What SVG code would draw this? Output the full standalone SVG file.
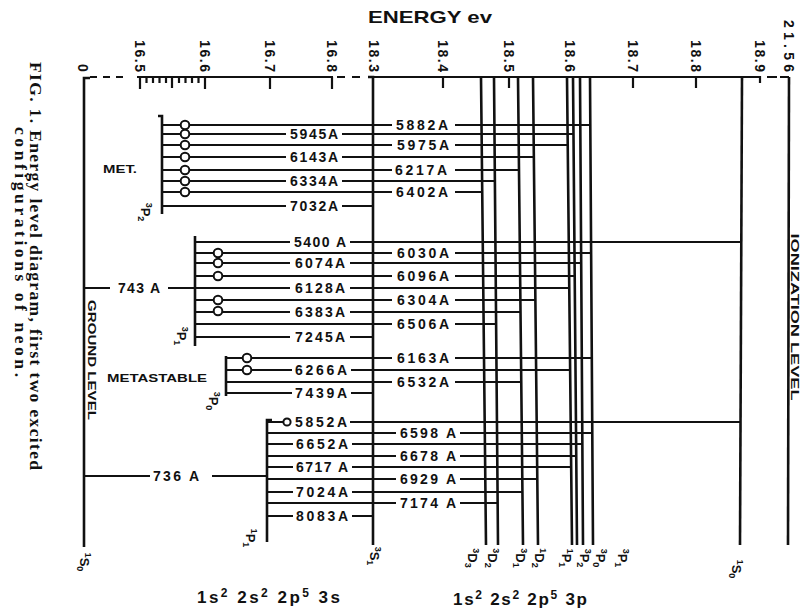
<svg xmlns="http://www.w3.org/2000/svg" width="810" height="611" viewBox="0 0 810 611">
<style>
.ln{stroke:#111;stroke-width:2;fill:none}
.vl{stroke:#111;stroke-width:2.6;fill:none}
.ax{stroke:#111;stroke-width:2.2;fill:none}
.c{fill:#fff;stroke:#111;stroke-width:2}
.lab{font-family:"Liberation Sans",Arial,sans-serif;font-weight:bold;font-size:14px;text-anchor:middle;fill:#111}
.tk{font-family:"Liberation Sans",Arial,sans-serif;font-weight:bold;font-size:14px;text-anchor:middle;fill:#111}
.tm{font-family:"Liberation Sans",Arial,sans-serif;font-weight:bold;font-size:13px;text-anchor:middle;fill:#111}
.sm{font-size:9px}
.cap{font-family:"Liberation Serif","Times New Roman",serif;font-weight:bold;font-size:17.5px;text-anchor:middle;fill:#111}
.big{font-family:"Liberation Sans",Arial,sans-serif;font-weight:bold;font-size:17px;fill:#111}
.nt{font-family:"Liberation Sans",Arial,sans-serif;font-weight:bold;font-size:11px;fill:#111}
</style>
<rect width="810" height="611" fill="#fff"/>

<g id="axis">
<text class="big" x="368" y="23" textLength="124" lengthAdjust="spacingAndGlyphs">ENERGY ev</text>
<path class="ax" d="M90 77H97M103 77H110M116 77H123M137 77H333M337 77H345M352 77H360M368 77H760V83M767 77H777M780 77H789"/>
<path class="ax" d="M140 77V89M205 77V89M270 77V89M332 77V89M443 77V88M509 77V88M633 77V88M696 77V88M172 77V88"/>
<path class="ax" stroke-width="1.6" d="M146.5 77V83M153 77V83M159.5 77V83M166 77V83M179 77V83M185.5 77V83M192 77V83M198.5 77V83"/>
<g class="tk">
<text transform="translate(135,56) rotate(90)" textLength="32">16.5</text>
<text transform="translate(200,56) rotate(90)" textLength="32">16.6</text>
<text transform="translate(265,56) rotate(90)" textLength="32">16.7</text>
<text transform="translate(327,56) rotate(90)" textLength="32">16.8</text>
<text transform="translate(369,56) rotate(90)" textLength="32">18.3</text>
<text transform="translate(438,56) rotate(90)" textLength="32">18.4</text>
<text transform="translate(504,56) rotate(90)" textLength="32">18.5</text>
<text transform="translate(565,56) rotate(90)" textLength="32">18.6</text>
<text transform="translate(628,56) rotate(90)" textLength="32">18.7</text>
<text transform="translate(691,56) rotate(90)" textLength="32">18.8</text>
<text transform="translate(755,56) rotate(90)" textLength="32">18.9</text>
<text transform="translate(784,46) rotate(90)" textLength="52">21.56</text>
<text transform="translate(78,68) rotate(90)">0</text>
</g>
</g>

<g id="ground-level">
<path class="vl" stroke-width="3" d="M90 78H84V547"/>
<text class="nt" transform="translate(88,360) rotate(90)" text-anchor="middle" textLength="120" lengthAdjust="spacingAndGlyphs">GROUND LEVEL</text>
<text class="tm" transform="translate(80,562) rotate(90)"><tspan class="sm" dy="-5">1</tspan><tspan dy="5">S</tspan><tspan class="sm" dy="3">0</tspan></text>
</g>

<g id="level-18-3">
<path class="vl" d="M368 77H373V545"/>
<text class="tm" transform="translate(370,556) rotate(90)"><tspan class="sm" dy="-5">3</tspan><tspan dy="5">S</tspan><tspan class="sm" dy="3">1</tspan></text>
</g>

<g id="levels-3p">
<path class="vl" d="M481 77L486 545M494 77L498 545M518 77L523 545M533 77L538 545M567 77L572 545M573 77L577 545M580 77L583 545M590 77L593 545"/>
<g class="tm">
<text transform="translate(468,558) rotate(90)"><tspan class="sm" dy="-5">3</tspan><tspan dy="5">D</tspan><tspan class="sm" dy="3">3</tspan></text>
<text transform="translate(488,558) rotate(90)"><tspan class="sm" dy="-5">3</tspan><tspan dy="5">D</tspan><tspan class="sm" dy="3">2</tspan></text>
<text transform="translate(516,558) rotate(90)"><tspan class="sm" dy="-5">3</tspan><tspan dy="5">D</tspan><tspan class="sm" dy="3">1</tspan></text>
<text transform="translate(535,558) rotate(90)"><tspan class="sm" dy="-5">1</tspan><tspan dy="5">D</tspan><tspan class="sm" dy="3">2</tspan></text>
<text transform="translate(562,558) rotate(90)"><tspan class="sm" dy="-5">1</tspan><tspan dy="5">P</tspan><tspan class="sm" dy="3">1</tspan></text>
<text transform="translate(580,558) rotate(90)"><tspan class="sm" dy="-5">3</tspan><tspan dy="5">P</tspan><tspan class="sm" dy="3">2</tspan></text>
<text transform="translate(596,558) rotate(90)"><tspan class="sm" dy="-5">3</tspan><tspan dy="5">P</tspan><tspan class="sm" dy="3">0</tspan></text>
<text transform="translate(618,558) rotate(90)"><tspan class="sm" dy="-5">3</tspan><tspan dy="5">P</tspan><tspan class="sm" dy="3">1</tspan></text>
</g>
</g>

<g id="level-1S0">
<path class="vl" d="M742 77L740 545"/>
<text class="tm" transform="translate(732,569) rotate(90)"><tspan class="sm" dy="-5">1</tspan><tspan dy="5">S</tspan><tspan class="sm" dy="3">0</tspan></text>
</g>

<g id="ionization-level">
<path class="vl" d="M789 77L788 545"/>
<text class="nt" transform="translate(791,317) rotate(90)" text-anchor="middle" textLength="167" lengthAdjust="spacingAndGlyphs">IONIZATION LEVEL</text>
</g>

<g id="level-3P2">
<path class="vl" stroke-width="3" d="M158 116H162V214"/>
<text class="tm" transform="translate(141,212) rotate(90)"><tspan class="sm" dy="-5">3</tspan><tspan dy="5">P</tspan><tspan class="sm" dy="3">2</tspan></text>
<text class="nt" x="103" y="173" textLength="34" lengthAdjust="spacingAndGlyphs">MET.</text>
</g>

<g id="level-3P1">
<path class="vl" stroke-width="3" d="M195 236V346"/>
<text class="tm" transform="translate(177,336) rotate(90)"><tspan class="sm" dy="-5">3</tspan><tspan dy="5">P</tspan><tspan class="sm" dy="3">1</tspan></text>
</g>

<g id="level-3P0">
<path class="vl" stroke-width="3" d="M226 356V396"/>
<text class="tm" transform="translate(209,401) rotate(90)"><tspan class="sm" dy="-5">3</tspan><tspan dy="5">P</tspan><tspan class="sm" dy="3">0</tspan></text>
<text class="nt" x="107" y="382" textLength="100" lengthAdjust="spacingAndGlyphs">METASTABLE</text>
</g>

<g id="level-1P1">
<path class="vl" stroke-width="3" d="M272 420H267V542"/>
<text class="tm" transform="translate(246,538) rotate(90)"><tspan class="sm" dy="-5">1</tspan><tspan dy="5">P</tspan><tspan class="sm" dy="3">1</tspan></text>
</g>

<g id="connectors">
<path class="ln" d="
M162 125H392M455 125H590.3
M162 134H286M342 134H573.5
M162 145H392M455 145H567.7
M162 157H286M342 157H533.9
M162 170H392M455 170H519
M162 181H286M342 181H494.9
M162 192H392M455 192H482.2
M162 206H286M342 206H373
M195 242H290M350 242H741.3
M195 253H392M455 253H591.1
M195 263H290M350 263H581.2
M195 276H392M455 276H574.7
M195 288H290M350 288H569.3
M195 300H392M455 300H535.4
M195 312H290M350 312H520.5
M195 324H392M455 324H496.1
M195 337H290M350 337H373
M226 358H392M455 358H591.8
M226 370H292M351 370H570.1
M226 382H392M455 382H521.3
M226 393H292M351 393H373
M267 422H283M350 422H740.5
M267 433H396M460 433H592.3
M267 444H293M352 444H582.3
M267 456H396M460 456H576.2
M267 467H293M352 467H571.2
M267 479H396M460 479H537.3
M267 492H293M352 492H522.4
M267 503H396M460 503H497.6
M267 516H293M352 516H373
M84 288H110M168 288H195
M84 476H150M212 476H267"/>
<g>
<circle class="c" cx="185" cy="125" r="4.3"/><circle class="c" cx="185" cy="134" r="4.3"/><circle class="c" cx="185" cy="145" r="4.3"/><circle class="c" cx="185" cy="157" r="4.3"/><circle class="c" cx="185" cy="170" r="4.3"/><circle class="c" cx="185" cy="181" r="4.3"/><circle class="c" cx="185" cy="192" r="4.3"/>
<circle class="c" cx="218" cy="253" r="4.3"/><circle class="c" cx="218" cy="263" r="4.3"/><circle class="c" cx="218" cy="276" r="4.3"/><circle class="c" cx="218" cy="300" r="4.3"/><circle class="c" cx="218" cy="311" r="4.3"/>
<circle class="c" cx="247" cy="358" r="4.3"/><circle class="c" cx="247" cy="370" r="4.3"/>
<circle class="c" cx="287" cy="422" r="3.6"/>
</g>
<g class="lab">
<text x="422" y="130" textLength="52">5882A</text>
<text x="314" y="139" textLength="48">5945A</text>
<text x="423" y="150" textLength="52">5975A</text>
<text x="314" y="162" textLength="48">6143A</text>
<text x="421" y="175" textLength="52">6217A</text>
<text x="314" y="186" textLength="48">6334A</text>
<text x="422" y="197" textLength="52">6402A</text>
<text x="314" y="211" textLength="48">7032A</text>
<text x="320" y="247" textLength="52">5400 A</text>
<text x="423" y="258" textLength="52">6030A</text>
<text x="320" y="268" textLength="50">6074A</text>
<text x="423" y="281" textLength="52">6096A</text>
<text x="320" y="293" textLength="50">6128A</text>
<text x="423" y="305" textLength="52">6304A</text>
<text x="320" y="317" textLength="50">6383A</text>
<text x="423" y="329" textLength="52">6506A</text>
<text x="320" y="342" textLength="50">7245A</text>
<text x="423" y="363" textLength="52">6163A</text>
<text x="321" y="375" textLength="52">6266A</text>
<text x="423" y="387" textLength="52">6532A</text>
<text x="321" y="398" textLength="52">7439A</text>
<text x="321" y="427" textLength="52">5852A</text>
<text x="428" y="438" textLength="56">6598 A</text>
<text x="322" y="449" textLength="52">6652A</text>
<text x="428" y="461" textLength="56">6678 A</text>
<text x="322" y="472" textLength="52">6717 A</text>
<text x="428" y="484" textLength="56">6929 A</text>
<text x="322" y="497" textLength="52">7024A</text>
<text x="428" y="508" textLength="56">7174 A</text>
<text x="322" y="521" textLength="52">8083A</text>
<text x="139" y="293" textLength="42">743 A</text>
<text x="176" y="481" textLength="46">736 A</text>
</g>
</g>

<g id="configuration-labels">
<text class="big" x="197" y="603" textLength="143">1s<tspan font-size="12" dy="-6">2</tspan><tspan dy="6"> 2s</tspan><tspan font-size="12" dy="-6">2</tspan><tspan dy="6"> 2p</tspan><tspan font-size="12" dy="-6">5</tspan><tspan dy="6"> 3s</tspan></text>
<text class="big" x="453" y="605" textLength="134">1s<tspan font-size="12" dy="-6">2</tspan><tspan dy="6"> 2s</tspan><tspan font-size="12" dy="-6">2</tspan><tspan dy="6"> 2p</tspan><tspan font-size="12" dy="-6">5</tspan><tspan dy="6"> 3p</tspan></text>
</g>

<g id="caption">
<text class="cap" transform="translate(30,266) rotate(90)" textLength="408">FIG. 1. Energy level diagram, first two excited</text>
<text class="cap" transform="translate(15,252) rotate(90)" textLength="250">configurations of neon.</text>
</g>
</svg>
